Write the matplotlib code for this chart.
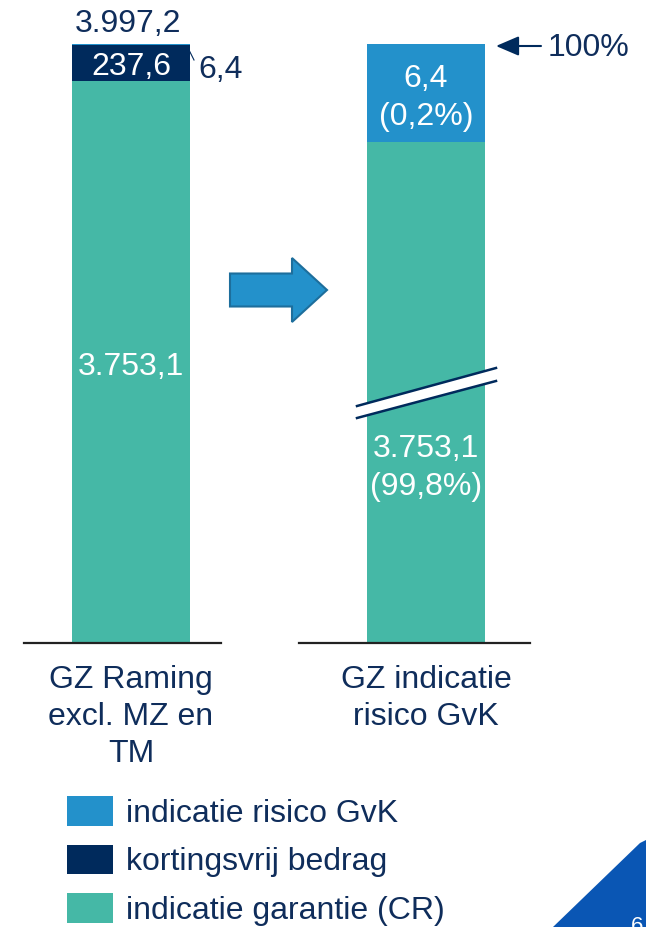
import numpy as np
import matplotlib
matplotlib.use("Agg")
import matplotlib.pyplot as plt
from matplotlib.patches import Polygon, FancyArrow, Patch

plt.rcParams['font.family'] = ['Liberation Sans', 'DejaVu Sans']

# data
categories = ["GZ Raming\nexcl. MZ en\nTM", "GZ indicatie\nrisico GvK"]
garantie = [3753.1, 3753.1]
kortingsvrij = [237.6, 0.0]
risico = [6.4, 6.4]
totaal = 3997.2
pct_garantie = 99.8
pct_risico = 0.2
series_names = ["indicatie risico GvK", "kortingsvrij bedrag", "indicatie garantie (CR)"]

c_blue = '#2391CB'
c_navy = '#002A5C'
c_green = '#45B8A6'
c_text = '#0F2D5B'
fs = 23

W, H = 646, 927
fig = plt.figure(figsize=(W / 100, H / 100), dpi=100)


def nl(v):
    # dutch number format
    return f"{v:,.1f}".replace(',', 'X').replace('.', ',').replace('X', '.')


def fig_rect(x0, y0, x1, y1):
    # pixel box (top-left origin) -> figure fraction rect
    return [x0 / W, 1 - y1 / H, (x1 - x0) / W, (y1 - y0) / H]


def label(ax, x, y, s, dy=0, **kw):
    ax.annotate(s, xy=(x, y), xytext=(0, dy), textcoords='offset pixels',
                ha='center', va='center', color='white', fontsize=fs, **kw)


# left stacked bar
axl = fig.add_axes(fig_rect(24, 44, 221, 643))
axl.bar(0, garantie[0], width=1, color=c_green)
axl.bar(0, kortingsvrij[0], bottom=garantie[0], width=1, color=c_navy)
axl.bar(0, risico[0], bottom=garantie[0] + kortingsvrij[0], width=1, color=c_blue)
axl.set_xlim(-0.907, 0.763)
axl.set_ylim(0, totaal)
label(axl, 0, garantie[0] / 2, nl(garantie[0]), dy=-5)
label(axl, 0, garantie[0] + kortingsvrij[0] / 2, nl(kortingsvrij[0]), dy=-4)

# right bar with broken axis
axr_top = fig.add_axes(fig_rect(299, 44, 530, 393))
axr_bot = fig.add_axes(fig_rect(299, 393, 530, 643))
top_val = garantie[1] + risico[1]
per_px = risico[1] / 98
for ax in (axr_top, axr_bot):
    ax.bar(0, garantie[1], width=1, color=c_green)
    ax.bar(0, risico[1], bottom=garantie[1], width=1, color=c_blue)
    ax.set_xlim(-1.076, 0.881)
axr_top.set_ylim(top_val - 349 * per_px, top_val)
axr_bot.set_ylim(0, 2000)
label(axr_top, 0, garantie[1] + risico[1] / 2,
      nl(risico[1]) + "\n(" + nl(pct_risico) + "%)", dy=-5, linespacing=1.38)
axr_bot.text(0, 0.70, nl(garantie[1]) + "\n(" + nl(pct_garantie) + "%)",
             transform=axr_bot.get_xaxis_transform(),
             ha='center', va='center', color='white', fontsize=fs, linespacing=1.38)

for ax in (axl, axr_top, axr_bot):
    for s in ('top', 'left', 'right'):
        ax.spines[s].set_visible(False)
    ax.spines['bottom'].set_color('#222222')
    ax.spines['bottom'].set_linewidth(1.6)
    ax.set_yticks([])
    ax.patch.set_alpha(0)
axr_top.spines['bottom'].set_visible(False)
axr_top.set_xticks([])

axl.set_xticks([0])
axl.set_xticklabels([categories[0]])
axr_bot.set_xticks([0])
axr_bot.set_xticklabels([categories[1]])
for ax in (axl, axr_bot):
    ax.tick_params(axis='x', length=0, pad=16, labelsize=fs, labelcolor=c_text)
    for t in ax.get_xticklabels():
        t.set_linespacing(1.29)

# overlay in pixel coordinates
ov = fig.add_axes([0, 0, 1, 1])
ov.set_xlim(0, W)
ov.set_ylim(H, 0)
ov.set_axis_off()

# break marks
ov.add_patch(Polygon([(357, 406), (496, 368), (496, 381), (357, 418)], closed=True,
                     facecolor='white', edgecolor='none', zorder=5))
ov.plot([357, 496], [406, 368], color=c_navy, lw=1.8, zorder=6)
ov.plot([357, 496], [418, 381], color=c_navy, lw=1.8, zorder=6)

# block arrow between bars
ov.add_patch(FancyArrow(230, 290, 62, 0, width=33, head_width=64, head_length=35,
                        length_includes_head=False, facecolor=c_blue, edgecolor='#1D6E9C', lw=1.5))

# total and small labels
ov.text(128, 24, nl(totaal), ha='center', va='center', color=c_text, fontsize=fs)
ov.text(221, 70, nl(risico[0]), ha='center', va='center', color=c_text, fontsize=fs)
ov.plot([187, 194], [46, 60], color=c_navy, lw=0.8)

# 100% pointer
ov.annotate('', xy=(496, 46), xytext=(541, 46),
            arrowprops=dict(arrowstyle='-|>,head_length=0.7,head_width=0.3', color=c_navy,
                            lw=1.5, mutation_scale=20, shrinkA=0, shrinkB=0))
ov.text(548, 48, '100%', ha='left', va='center', color=c_text, fontsize=fs)

# corner page marker
ov.add_patch(Polygon([(553, 927), (640, 843), (646, 840), (646, 927)], closed=True,
                     facecolor='#0A56B4', edgecolor='none'))
ov.text(637, 916, '6', ha='center', va='top', color='white', fontsize=16)

# legend
handles = [Patch(facecolor=c_blue), Patch(facecolor=c_navy), Patch(facecolor=c_green)]
fig.legend(handles, series_names, loc='upper left',
           bbox_to_anchor=(67 / W, 1 - 796 / H), frameon=False, fontsize=fs,
           labelcolor=c_text, handlelength=1.45, handleheight=1.05, labelspacing=0.5,
           handletextpad=0.4, borderpad=0, borderaxespad=0)

fig.savefig('out.png', dpi=100)
